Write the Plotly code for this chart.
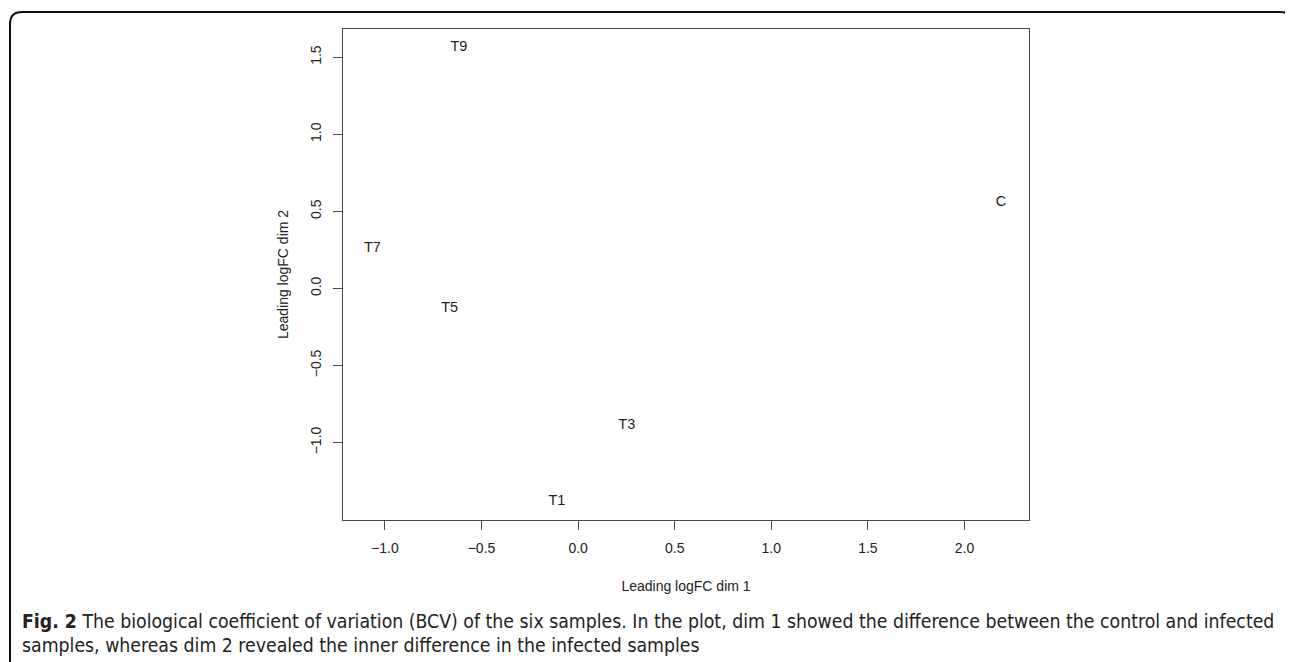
import plotly.graph_objects as go

# Data
samples = ["C", "T1", "T3", "T5", "T7", "T9"]
dim1 = [2.189, -0.110, 0.252, -0.665, -1.065, -0.617]
dim2 = [0.558, -1.383, -0.885, -0.127, 0.258, 1.561]

x_ticks = [-1.0, -0.5, 0.0, 0.5, 1.0, 1.5, 2.0]
y_ticks = [-1.0, -0.5, 0.0, 0.5, 1.0, 1.5]
x_range = [-1.217, 2.334]
y_range = [-1.502, 1.683]

caption_bold = "Fig. 2"
caption_line1 = (" The biological coefficient of variation (BCV) of the six samples. In the plot, "
                 "dim 1 showed the difference between the control and infected")
caption_line2 = "samples, whereas dim 2 revealed the inner difference in the infected samples"

OFF = 8  # default body margin of the html page
W, H = 1293 - OFF, 662 - OFF
L, R, T, B = 343 - OFF, 1029 - OFF, 29 - OFF, 520 - OFF
pw, ph = R - L, B - T

def px(x):
    return (x - OFF - L) / pw

def py(y):
    return (B - (y - OFF)) / ph

fig = go.Figure()
fig.add_trace(go.Scatter(
    x=dim1, y=dim2, mode="text", text=samples,
    textposition="middle center",
    textfont=dict(family="Liberation Sans, Arial", size=14.5, color="#222"),
    showlegend=False, hoverinfo="skip",
))

axis_common = dict(
    showgrid=False, zeroline=False, showline=True, mirror=True,
    linecolor="#4a4a4a", linewidth=1,
    ticks="outside", ticklen=9, tickcolor="#4a4a4a", tickwidth=1,
    tickfont=dict(family="Liberation Sans, Arial", size=14, color="#222"),
)

fig.update_xaxes(
    range=x_range, tickvals=x_ticks, ticktext=[f"{v:.1f}".replace("-", "\u2212") for v in x_ticks],
    title=dict(text="Leading logFC dim 1", standoff=26,
               font=dict(family="Liberation Sans, Arial", size=14, color="#222")),
    ticklabelstandoff=6,
    **axis_common,
)
fig.update_yaxes(
    range=y_range, tickvals=y_ticks, ticktext=[f"{v:.1f}".replace("-", "\u2212") for v in y_ticks],
    tickangle=-90,
    title=dict(text="Leading logFC dim 2", standoff=16,
               font=dict(family="Liberation Sans, Arial", size=14, color="#222")),
    ticklabelstandoff=6,
    **axis_common,
)

# Outer rounded frame (extends below the visible area)
x0, x1, y0, y1, r = 10, 1292, 12, 700, 12
path = (f"M {px(x0)},{py(y1)} L {px(x0)},{py(y0 + r)} "
        f"Q {px(x0)},{py(y0)} {px(x0 + r)},{py(y0)} "
        f"L {px(x1 - r)},{py(y0)} Q {px(x1)},{py(y0)} {px(x1)},{py(y0 + r)} "
        f"L {px(x1)},{py(y1)}")
fig.add_shape(type="path", path=path, xref="paper", yref="paper",
              line=dict(color="#111", width=2))

cap_font = dict(family="DejaVu Sans Condensed, Liberation Sans Narrow, Arial Narrow", size=19.3, color="#222")
fig.add_annotation(x=px(20), y=py(621), xref="paper", yref="paper",
                   xanchor="left", yanchor="middle", showarrow=False,
                   text=f"<b>{caption_bold}</b>{caption_line1}", font=cap_font)
fig.add_annotation(x=px(20), y=py(645), xref="paper", yref="paper",
                   xanchor="left", yanchor="middle", showarrow=False,
                   text=caption_line2, font=cap_font)

fig.update_layout(
    width=W, height=H,
    margin=dict(l=L, r=W - R, t=T, b=H - B),
    paper_bgcolor="white", plot_bgcolor="white",
)

fig.write_html("out.html")
